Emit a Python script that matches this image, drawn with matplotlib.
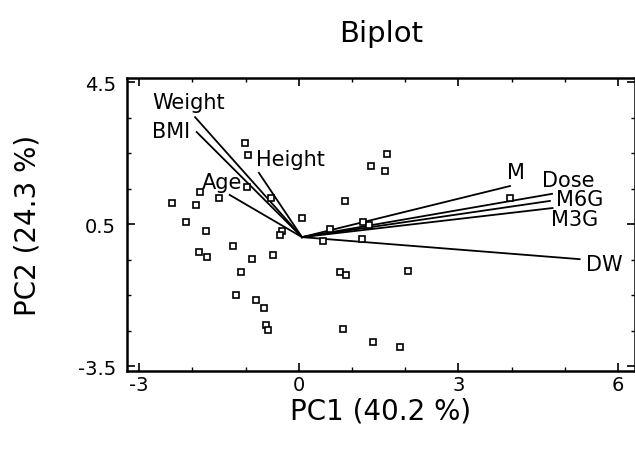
import numpy as np
import matplotlib
matplotlib.use("Agg")
import matplotlib.pyplot as plt
from matplotlib.ticker import MultipleLocator

plt.rcParams["axes.unicode_minus"] = False

# sample scores (PC1, PC2)
pc1 = [-1.02, -0.96, -1.86, -2.39, -1.94, -1.50, -0.98, -0.53, 0.06, -2.12,
       -1.75, -0.32, -0.36, -1.24, -1.88, -1.73, -0.88, -0.49, -1.09, -1.18,
       -0.81, -0.66, -0.62, -0.58, 1.65, 1.35, 1.62, 0.86, 0.58, 1.20,
       1.32, 0.45, 1.18, 0.77, 0.88, 2.05, 0.83, 1.39, 1.90, 3.97]
pc2 = [2.78, 2.44, 1.40, 1.09, 1.04, 1.23, 1.54, 1.23, 0.67, 0.56,
       0.30, 0.30, 0.20, -0.12, -0.29, -0.43, -0.49, -0.37, -0.85, -1.50,
       -1.64, -1.87, -2.35, -2.49, 2.47, 2.13, 1.99, 1.15, 0.36, 0.56,
       0.47, 0.02, 0.08, -0.85, -0.94, -0.82, -2.46, -2.82, -2.96, 1.23]

# variable loadings (vector tips) and where the labels sit
var_names = ["Weight", "BMI", "Height", "Age", "M", "Dose", "M6G", "M3G", "DW"]
load_x = [-1.95, -1.92, -0.75, -1.30, 3.97, 4.76, 4.72, 4.77, 5.28]
load_y = [3.51, 3.09, 1.94, 1.32, 1.57, 1.35, 1.15, 0.95, -0.49]
label_x = [-2.76, -2.76, -0.81, -1.82, 3.91, 4.57, 4.83, 4.74, 5.39]
label_y = [3.94, 3.12, 2.33, 1.68, 1.96, 1.74, 1.20, 0.64, -0.63]
origin = (0.06, 0.13)

fig = plt.figure(figsize=(6.35, 4.52), dpi=100)
ax = fig.add_axes([0.2, 0.177, 0.8, 0.648])

for tx, ty in zip(load_x, load_y):
    ax.plot([origin[0], tx], [origin[1], ty], color="black", lw=1.3, zorder=2)

ax.plot(pc1, pc2, ls="none", marker="s", ms=4.5, mfc="white", mec="black",
        mew=1.2, zorder=3)

for name, lx, ly in zip(var_names, label_x, label_y):
    ax.text(lx, ly, name, fontsize=15, ha="left", va="center", zorder=4)

ax.set_xlim(-3.23, 6.32)
ax.set_ylim(-3.64, 4.61)
ax.set_xticks([-3, 0, 3, 6])
ax.set_yticks([4.5, 0.5, -3.5])
ax.set_yticklabels(["4.5", "0.5", "-3.5"])
ax.xaxis.set_minor_locator(MultipleLocator(1))
ax.yaxis.set_minor_locator(MultipleLocator(1, offset=0.5))
ax.tick_params(which="both", direction="in", top=True, right=True)
ax.tick_params(which="major", length=6, width=1.2, labelsize=14)
ax.tick_params(axis="x", which="major", pad=3)
ax.tick_params(axis="y", which="major", pad=8)
ax.tick_params(which="minor", length=3, width=1)
for s in ax.spines.values():
    s.set_linewidth(1.8)

ax.set_xlabel("PC1 (40.2 %)", fontsize=20, labelpad=2)
ax.set_ylabel("PC2 (24.3 %)", fontsize=20, labelpad=26)
ax.set_title("Biplot", fontsize=21, pad=27)

fig.savefig("out.png", dpi=100)
